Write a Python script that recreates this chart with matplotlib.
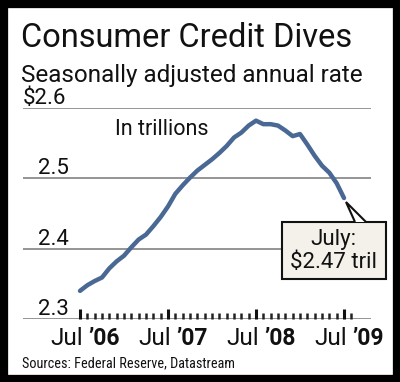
import matplotlib
matplotlib.use("Agg")
import matplotlib.pyplot as plt
from matplotlib.patches import Rectangle, Polygon

# ---- data ----
months = list(range(37))  # Jul 2006 .. Jul 2009, monthly
credit = [2.340, 2.348, 2.354, 2.359, 2.372, 2.382, 2.390, 2.402, 2.413, 2.420,
          2.432, 2.445, 2.460, 2.478, 2.490, 2.501, 2.511, 2.519, 2.527, 2.536,
          2.546, 2.558, 2.565, 2.575, 2.582, 2.577, 2.577, 2.575, 2.568, 2.560,
          2.563, 2.548, 2.532, 2.518, 2.508, 2.493, 2.472]
year_ticks = [0, 12, 24, 36]
year_months = ["Jul", "Jul", "Jul", "Jul"]
year_labels = ["\u201906", "\u201907", "\u201908", "\u201909"]
y_ticks = [2.3, 2.4, 2.5, 2.6]
y_labels = ["2.3", "2.4", "2.5", "$2.6"]

W, H = 400, 382
fig = plt.figure(figsize=(W / 100, H / 100), dpi=100)
fig.patch.set_facecolor("white")

def fx(x):
    return x / W

def fy(y):
    return 1 - y / H

FONT = "Roboto"
COND = ["Liberation Sans Narrow", "Roboto Condensed", "DejaVu Sans"]

# black frame
fig.add_artist(Rectangle((0, 0), 1, 1, transform=fig.transFigure,
                         facecolor="none", edgecolor="black", linewidth=11))

# axes: x in months, y in trillions
ax_left, ax_right = 23, 371
ax_top, ax_bot = 108, 319
ax = fig.add_axes([fx(ax_left), fy(ax_bot), (ax_right - ax_left) / W, (ax_bot - ax_top) / H])
px_per_month = (344 - 80) / 36.0
ax.set_xlim((ax_left - 80) / px_per_month, (ax_right - 80) / px_per_month)
ax.set_ylim(2.3, 2.6)
ax.axis("off")

for v in y_ticks:
    ax.axhline(v, color="#8c8c8c", linewidth=1.3, zorder=1)

# tick labels for y, sitting on top of gridlines
for v, lab in zip(y_ticks, y_labels):
    xpos = 23 if lab.startswith("$") else 38
    ax.annotate(lab, xy=(0, v), xycoords=("axes fraction", "data"),
                xytext=(xpos - ax_left, 4), textcoords="offset pixels",
                ha="left", va="baseline", fontsize=16, family=FONT,
                color="#111111")

# month ticks
minor = [m for m in range(38) if m not in year_ticks]
ax.vlines(minor, 2.3, 2.3 + 0.0085, colors="#222222", linewidth=1.8,
          zorder=3, clip_on=False)
ax.vlines(year_ticks, 2.3, 2.3 + 0.0145, colors="#111111", linewidth=2.2,
          zorder=3, clip_on=False)

# x labels
for m, mon, yr in zip(year_ticks, year_months, year_labels):
    ax.annotate(mon, xy=(m, 2.3), xycoords="data", xytext=(3, -26),
                textcoords="offset pixels", ha="right", va="baseline",
                fontsize=17.5, family=FONT, color="#111111")
    ax.annotate(yr, xy=(m, 2.3), xycoords="data", xytext=(8, -26),
                textcoords="offset pixels", ha="left", va="baseline",
                fontsize=16.5, family=FONT, fontweight="bold", color="#111111")

# the data line
ax.plot(months, credit, color="#4a6894", linewidth=3.2, solid_capstyle="round",
        solid_joinstyle="round", zorder=4)

# callout box
box = Rectangle((fx(282), fy(279)), (386 - 282) / W, (279 - 222) / H,
                transform=fig.transFigure, facecolor="#f4f1ea",
                edgecolor="#111111", linewidth=1.5, zorder=5)
fig.add_artist(box)
tip_disp = ax.transData.transform((months[-1], credit[-1]))
tip_fig = fig.transFigure.inverted().transform(tip_disp + [2, -4])
wedge = Polygon([(fx(355), fy(222)), tuple(tip_fig), (fx(366), fy(222))],
                closed=False, transform=fig.transFigure, facecolor="white",
                edgecolor="#111111", linewidth=1.5, zorder=6)
fig.add_artist(wedge)
fig.text(fx(333), fy(245), "July:", ha="center", va="baseline", fontsize=16,
         family=FONT, color="#111111", zorder=7)
fig.text(fx(333), fy(268), "$2.47 tril", ha="center", va="baseline", fontsize=16,
         family=FONT, color="#111111", zorder=7)

# titles
fig.text(fx(21), fy(47), "Consumer Credit Dives", ha="left", va="baseline",
         fontsize=23.5, family=FONT, color="#111111")
fig.text(fx(21), fy(82), "Seasonally adjusted annual rate", ha="left", va="baseline",
         fontsize=17.5, family=FONT, color="#111111")
fig.text(fx(115), fy(135), "In trillions", ha="left", va="baseline",
         fontsize=15.5, family=FONT, color="#111111")
fig.text(fx(22), fy(367), "Sources: Federal Reserve, Datastream", ha="left",
         va="baseline", fontsize=10.3, family=COND, color="#111111")

fig.savefig("out.png", dpi=100, facecolor="white")
